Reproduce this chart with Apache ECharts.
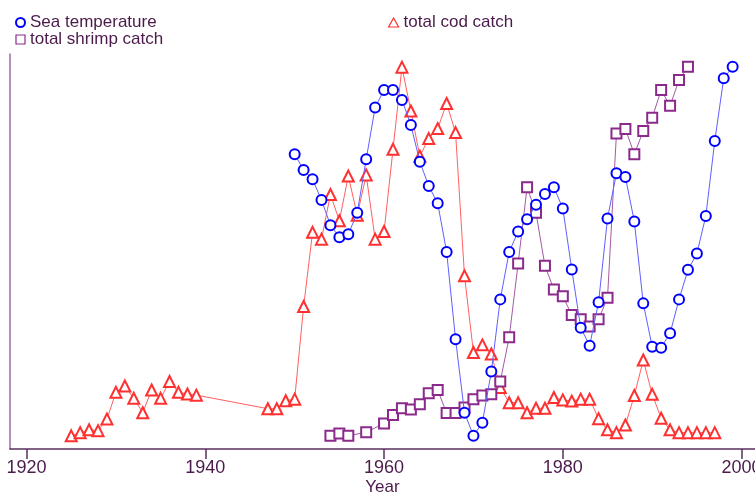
<!DOCTYPE html>
<html>
<head>
<meta charset="utf-8">
<script src="https://cdn.jsdelivr.net/npm/echarts@6/dist/echarts.min.js"></script>
<style>
html,body{margin:0;padding:0;background:#fff;}
#chart{width:755px;height:493px;}
</style>
</head>
<body>
<div id="chart"></div>
<script>
// Tick labels of the x axis
const xTicks = [1920, 1940, 1960, 1980, 2000];

// Sea temperature (relative scale, no y labels in the original)
const tempYears = [1950,1951,1952,1953,1954,1955,1956,1957,1958,1959,
  1960,1961,1962,1963,1964,1965,1966,1967,1968,1969,
  1970,1971,1972,1973,1974,1975,1976,1977,1978,1979,
  1980,1981,1982,1983,1984,1985,1986,1987,1988,1989,
  1990,1991,1992,1993,1994,1995,1996,1997,1998,1999];
const seaTemp = [73.9,69.9,67.6,62.4,56.1,53.1,53.8,59.2,72.6,85.6,
  90.0,90.0,87.5,81.2,72.0,65.9,61.6,49.4,27.5,9.1,
  3.3,6.6,19.4,37.5,49.4,54.5,57.6,61.2,63.9,65.6,
  60.3,45.0,30.4,25.9,36.8,57.8,69.1,68.2,57.0,36.5,
  25.6,25.4,29.0,37.5,44.9,49.0,58.4,77.2,92.9,95.8];

// Total cod catch
const codYears = [1925,1926,1927,1928,1929,1930,1931,1932,1933,1934,1935,1936,1937,1938,1939,
  1947,1948,1949,1950,1951,1952,1953,1954,1955,1956,1957,1958,1959,
  1960,1961,1962,1963,1964,1965,1966,1967,1968,1969,
  1970,1971,1972,1973,1974,1975,1976,1977,1978,1979,
  1980,1981,1982,1983,1984,1985,1986,1987,1988,1989,
  1990,1991,1992,1993,1994,1995,1996,1997];
const codCatch = [3.3,4.1,4.8,4.6,7.5,14.2,15.8,12.7,9.1,14.8,12.7,16.9,14.2,13.8,13.5,
  10.1,10.1,12.1,12.5,35.7,54.3,52.6,63.8,57.2,68.4,58.6,68.7,52.6,
  54.5,75.1,95.7,84.7,73.4,77.8,80.3,86.6,79.3,43.4,
  24.2,26.1,23.8,15.4,11.6,11.6,9.1,10.2,10.2,12.9,
  12.3,12.0,12.5,12.5,7.6,4.8,4.1,6.0,13.4,22.3,
  13.7,7.7,4.8,4.1,4.1,4.1,4.1,4.1];

// Total shrimp catch
const shrimpYears = [1954,1955,1956,1958,
  1960,1961,1962,1963,1964,1965,1966,1967,1968,1969,
  1970,1971,1972,1973,1974,1975,1976,1977,1978,1979,
  1980,1981,1982,1983,1984,1985,1986,1987,1988,1989,
  1990,1991,1992,1993,1994];
const shrimpCatch = [3.3,3.9,3.3,4.2,
  6.4,8.5,10.2,9.9,11.2,14.0,14.8,9.0,9.0,10.4,
  12.5,13.4,13.7,16.9,28.0,46.5,65.6,59.2,45.9,40.0,
  38.3,33.6,32.5,30.7,32.5,37.9,79.1,80.2,73.9,79.7,
  83.0,90.0,86.0,92.5,95.8];

const zip = (xs, ys) => xs.map((x, i) => [x, ys[i]]);

const textColor = '#4a1a4a';
const font = 'Liberation Sans, Arial, sans-serif';

const chart = echarts.init(document.getElementById('chart'), null, {renderer: 'canvas'});
chart.setOption({
  animation: false,
  backgroundColor: '#ffffff',
  grid: {left: 10, right: 0, top: 54, bottom: 44, containLabel: false, outerBoundsMode: 'none'},
  legend: [
    {
      left: 10, top: 9, orient: 'vertical', itemGap: 0,
      itemWidth: 9, itemHeight: 9,
      textStyle: {color: textColor, fontSize: 17, fontFamily: font, lineHeight: 16},
      data: [
        {name: 'Sea temperature', icon: 'circle', itemStyle: {color: '#ffffff', borderColor: '#0000ff', borderWidth: 2}},
        {name: 'total shrimp catch', icon: 'rect', itemStyle: {color: '#ffffff', borderColor: '#8b2a8b', borderWidth: 1.2}}
      ]
    },
    {
      left: 383, top: 9, orient: 'vertical', itemGap: 0,
      itemWidth: 10, itemHeight: 9,
      textStyle: {color: textColor, fontSize: 17, fontFamily: font, lineHeight: 16},
      data: [
        {name: 'total cod catch', icon: 'triangle', itemStyle: {color: '#ffffff', borderColor: '#ff3030', borderWidth: 1.2}}
      ]
    }
  ],
  xAxis: {
    type: 'value',
    min: 1918.15,
    max: 2001.5,
    name: 'Year',
    nameLocation: 'middle',
    nameGap: 30,
    nameMoveOverlap: false,
    nameTextStyle: {color: textColor, fontSize: 17, fontFamily: font},
    axisLine: {lineStyle: {color: '#5a2f5e', width: 1.5}},
    axisTick: {show: true, length: 10, customValues: xTicks, lineStyle: {color: '#5a2f5e', width: 1.5}},
    axisLabel: {customValues: xTicks, color: textColor, fontSize: 18, fontFamily: font, margin: 10,
      formatter: v => String(v)},
    splitLine: {show: false}
  },
  yAxis: {
    type: 'value',
    min: 0,
    max: 99,
    axisLine: {show: true, lineStyle: {color: '#a06aa6', width: 1.5}},
    axisTick: {show: false},
    axisLabel: {show: false},
    splitLine: {show: false}
  },
  series: [
    {
      name: 'total cod catch',
      type: 'line',
      data: zip(codYears, codCatch),
      symbol: 'emptyTriangle',
      symbolSize: 11,
      lineStyle: {color: '#ff6060', width: 1},
      itemStyle: {color: '#ff3030', borderColor: '#ff3030', borderWidth: 1.2},
      z: 2
    },
    {
      name: 'total shrimp catch',
      type: 'line',
      data: zip(shrimpYears, shrimpCatch),
      symbol: 'emptyRect',
      symbolSize: 10,
      lineStyle: {color: '#a55aa5', width: 1},
      itemStyle: {color: '#8b2a8b', borderColor: '#8b2a8b', borderWidth: 1.3},
      z: 3
    },
    {
      name: 'Sea temperature',
      type: 'line',
      data: zip(tempYears, seaTemp),
      symbol: 'emptyCircle',
      symbolSize: 10,
      lineStyle: {color: '#6060ff', width: 1},
      itemStyle: {color: '#0000ff', borderColor: '#0000ff', borderWidth: 2},
      z: 4
    }
  ]
});
</script>
</body>
</html>
